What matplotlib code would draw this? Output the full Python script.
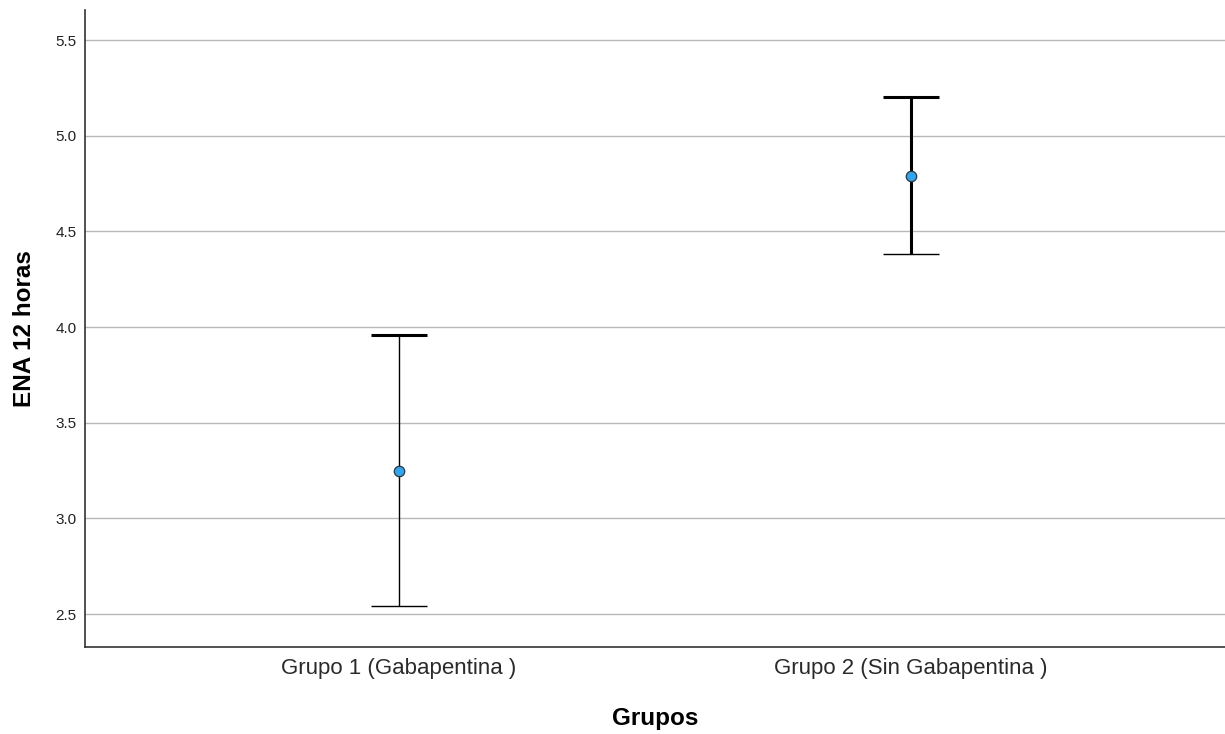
import matplotlib
matplotlib.use("Agg")
import matplotlib.pyplot as plt

categories = ["Grupo 1 (Gabapentina )", "Grupo 2 (Sin Gabapentina )"]
means = [3.25, 4.79]
lower = [2.54, 4.38]
upper = [3.96, 5.20]
yticks = [2.5, 3.0, 3.5, 4.0, 4.5, 5.0, 5.5]

plt.rcParams['font.family'] = ['Liberation Sans', 'DejaVu Sans']

fig = plt.figure(figsize=(12.25, 7.34), dpi=100)
ax = fig.add_axes([0.0694, 0.1185, 0.9306, 0.8679])

x = list(range(len(categories)))
# vertical line widths and cap widths per group (SPSS rendering)
vlw = [1.0, 2.2]
top_lw = [2.2, 2.2]
bot_lw = [1.0, 1.0]
for i in x:
    ax.plot([i, i], [lower[i], upper[i]], color='black', lw=vlw[i], zorder=3, solid_capstyle='butt')
    ax.plot([i - 0.055, i + 0.055], [upper[i], upper[i]], color='black', lw=top_lw[i], zorder=3, solid_capstyle='butt')
    ax.plot([i - 0.055, i + 0.055], [lower[i], lower[i]], color='black', lw=bot_lw[i], zorder=3, solid_capstyle='butt')
ax.plot(x, means, linestyle='none', marker='o', markersize=7.5, markerfacecolor='#2ea6f2',
        markeredgecolor='#333333', markeredgewidth=0.9, zorder=4)

ax.set_xlim(-0.613, 1.613)
ax.set_ylim(2.3275, 5.657)
ax.set_yticks(yticks)
ax.set_yticklabels([f"{v:.1f}" for v in yticks], fontsize=11, color='#222222')
ax.set_xticks(x)
ax.set_xticklabels(categories, fontsize=16, color='#2a2a2a')
ax.tick_params(axis='both', length=0)
ax.tick_params(axis='y', pad=6)
ax.tick_params(axis='x', pad=8)
ax.yaxis.grid(True, color='#b8b8b8', lw=1.0)
ax.set_axisbelow(True)
for s in ['top', 'right']:
    ax.spines[s].set_visible(False)
for s in ['left', 'bottom']:
    ax.spines[s].set_color('#333333')
    ax.spines[s].set_linewidth(1.2)

ax.set_ylabel("ENA 12 horas", fontsize=17.5, fontweight='bold', labelpad=14)
ax.set_xlabel("Grupos", fontsize=17.5, fontweight='bold', labelpad=20)

fig.savefig("out.png", dpi=100)
